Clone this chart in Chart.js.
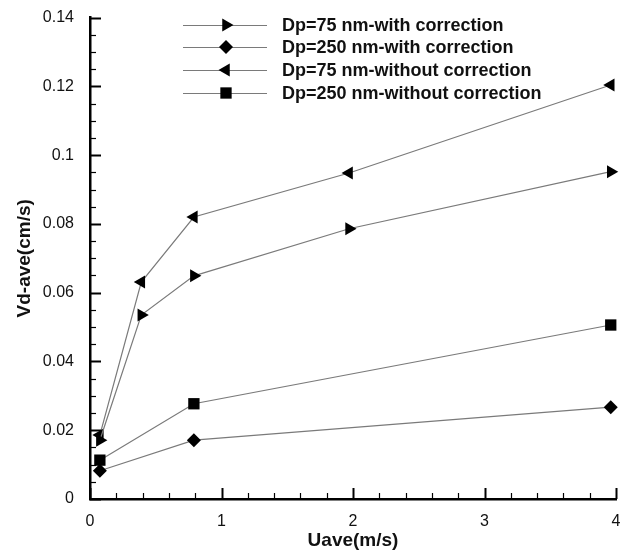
<!DOCTYPE html>
<html>
<head>
<meta charset="utf-8">
<script src="https://cdn.jsdelivr.net/npm/chart.js@4"></script>
<style>
	body { margin:0; background:#fff; }
	#wrap { position:relative; width:631px; height:557px; }
</style>
</head>
<body>
<div id="wrap"><canvas id="c" width="631" height="557"></canvas></div>
<script>
// Uave (m/s) for the Dp=75 runs and the Dp=250 runs
const uave75 = [0.075, 0.39, 0.79, 1.97, 3.96];
const uave250 = [0.075, 0.79, 3.96];

// Vd-ave (cm/s)
const vd75with = [0.0171, 0.0535, 0.0649, 0.0786, 0.0952];
const vd250with = [0.0082, 0.0171, 0.0267];
const vd75without = [0.0186, 0.0631, 0.0820, 0.0948, 0.1204];
const vd250without = [0.0113, 0.0277, 0.0506];

const names = ['Dp=75 nm-with correction', 'Dp=250 nm-with correction', 'Dp=75 nm-without correction', 'Dp=250 nm-without correction'];
const xTicks = [0, 1, 2, 3, 4];
const yTicks = [0, 0.02, 0.04, 0.06, 0.08, 0.1, 0.12, 0.14];

const fam = '"Liberation Sans", Arial, Helvetica, sans-serif';
const lineCol = '#7a7a7a';

const pts = (xs, ys) => xs.map((x, i) => ({ x: x, y: ys[i] }));

const marker = [
	{ pointStyle: 'triangle', rotation: 90, radius: 7.5 },
	{ pointStyle: 'rectRot', rotation: 0, radius: 7 },
	{ pointStyle: 'triangle', rotation: -90, radius: 7.5 },
	{ pointStyle: 'rect', rotation: 0, radius: 8 },
];

const mkSet = (i, data) => ({
	label: names[i],
	data: data,
	showLine: true,
	borderColor: lineCol,
	borderWidth: 1.2,
	backgroundColor: '#000',
	pointBorderColor: '#000',
	pointBackgroundColor: '#000',
	pointBorderWidth: 0,
	pointStyle: marker[i].pointStyle,
	rotation: marker[i].rotation,
	pointRadius: marker[i].radius,
	pointHoverRadius: marker[i].radius,
	clip: false,
});

// ticks point into the plot, majors long, minors short
const innerTicks = {
	id: 'innerTicks',
	afterDraw: ch => {
		const c = ch.ctx, xs = ch.scales.x, ys = ch.scales.y, a = ch.chartArea;
		c.save();
		c.strokeStyle = '#000';
		for (let k = 0; k <= 20; k++) {
			const v = k * 0.2, px = Math.round(xs.getPixelForValue(v)) + 0.5;
			const major = k % 5 == 0;
			c.lineWidth = major ? 2 : 1.2;
			c.beginPath(); c.moveTo(px, a.bottom); c.lineTo(px, a.bottom - (major ? 11 : 6)); c.stroke();
		}
		for (let k = 0; k <= 28; k++) {
			const v = k * 0.005, py = Math.round(ys.getPixelForValue(v)) + 0.5;
			const major = k % 4 == 0;
			c.lineWidth = major ? 2 : 1.2;
			c.beginPath(); c.moveTo(a.left, py); c.lineTo(a.left + (major ? 11 : 6), py); c.stroke();
		}
		c.restore();
	}
};

// legend: line with marker in the middle, then bold label
const lineLegend = {
	id: 'lineLegend',
	afterDraw: ch => {
		const c = ch.ctx;
		const rows = [25, 47, 70, 93];
		c.save();
		ch.data.datasets.forEach((d, i) => {
			const y = rows[i];
			c.strokeStyle = lineCol;
			c.lineWidth = 1.2;
			c.beginPath(); c.moveTo(183, y + 0.5); c.lineTo(267, y + 0.5); c.stroke();
			c.fillStyle = '#000';
			c.strokeStyle = '#000';
			Chart.helpers.drawPoint(c, { pointStyle: d.pointStyle, rotation: d.rotation, radius: d.pointRadius, borderWidth: 0 }, 226, y);
			c.fillStyle = '#111';
			c.font = 'bold 18px ' + fam;
			c.textAlign = 'left';
			c.textBaseline = 'middle';
			c.fillText(d.label, 282, y + 1);
		});
		c.restore();
	}
};

new Chart(document.getElementById('c'), {
	type: 'scatter',
	data: {
		datasets: [
			mkSet(0, pts(uave75, vd75with)),
			mkSet(1, pts(uave250, vd250with)),
			mkSet(2, pts(uave75, vd75without)),
			mkSet(3, pts(uave250, vd250without)),
		]
	},
	options: {
		responsive: false,
		animation: false,
		devicePixelRatio: 1,
		layout: { padding: { top: 14, right: 15, left: 0, bottom: 0 } },
		plugins: {
			legend: { display: false },
			tooltip: { enabled: false },
		},
		scales: {
			x: {
				type: 'linear', min: 0, max: 4,
				afterFit: s => { s.height = 58 },
				afterBuildTicks: s => { s.ticks = xTicks.map(v => ({ value: v })) },
				grid: { display: false },
				border: { display: true, color: '#000', width: 2.5 },
				ticks: { color: '#111', padding: 5, font: { family: fam, size: 16 }, callback: v => String(v) },
				title: { display: true, text: 'Uave(m/s)', color: '#111', padding: { top: 0, bottom: 5 }, font: { family: fam, size: 19, weight: 'bold' } },
			},
			y: {
				type: 'linear', min: 0, max: 0.14,
				afterFit: s => { s.width = 90 },
				afterBuildTicks: s => { s.ticks = yTicks.map(v => ({ value: v })) },
				grid: { display: false },
				border: { display: true, color: '#000', width: 2.5 },
				ticks: { color: '#111', padding: 8, font: { family: fam, size: 16 }, callback: v => String(+v.toFixed(2)) },
				title: { display: true, text: 'Vd-ave(cm/s)', color: '#111', padding: { top: 13, bottom: 0 }, font: { family: fam, size: 19, weight: 'bold' } },
			},
		},
	},
	plugins: [innerTicks, lineLegend],
});
</script>
</body>
</html>
